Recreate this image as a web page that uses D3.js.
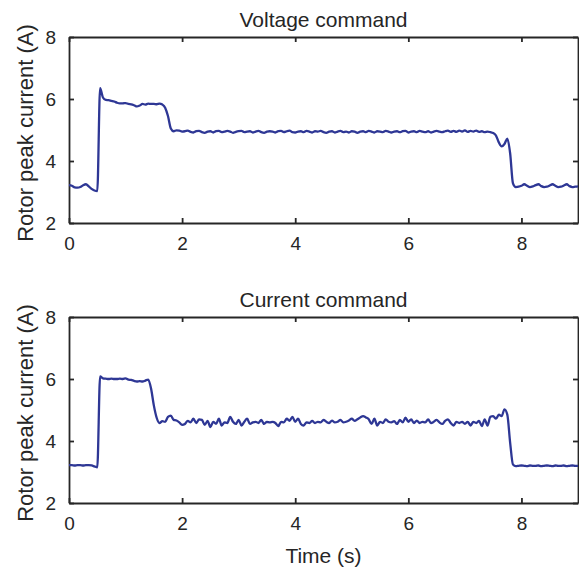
<!DOCTYPE html>
<html>
<head>
<meta charset="utf-8">
<script src="https://cdn.jsdelivr.net/npm/d3@7"></script>
<style>
  html, body { margin: 0; padding: 0; background: #fff; }
  svg { display: block; }
  text { font-family: "Liberation Sans", Arial, Helvetica, sans-serif; fill: #262626; }
</style>
</head>
<body>
<svg id="chart" width="579" height="574"></svg>
<script>
// ---- data ----
const timeStep = 0.05; // sampling interval of the recorded traces (s)
const panelTitles = ["Voltage command", "Current command"];
const xTicks = [0, 2, 4, 6, 8];
const yTicks = [2, 4, 6, 8];
const xDomain = [0, 9];
const yDomain = [2, 8];

const voltageCmd = [
  3.22, 3.20, 3.15, 3.14, 3.16, 3.22, 3.25, 3.18, 3.10, 3.05,
  3.03, 6.35, 6.05, 5.97, 5.96, 5.94, 5.92, 5.88, 5.86, 5.86,
  5.87, 5.84, 5.83, 5.80, 5.76, 5.79, 5.84, 5.82, 5.85, 5.84,
  5.84, 5.83, 5.85, 5.82, 5.72, 5.45, 5.05, 4.96, 4.99, 4.98,
  4.95, 4.96, 4.98, 4.94, 4.92, 4.96, 4.97, 4.93, 4.91, 4.95,
  4.96, 4.92, 4.96, 4.97, 4.93, 4.95, 4.97, 4.95, 4.91, 4.94,
  4.96, 4.97, 4.93, 4.95, 4.96, 4.92, 4.95, 4.97, 4.93, 4.91,
  4.95, 4.96, 4.95, 4.92, 4.96, 4.97, 4.93, 4.96, 4.98, 4.93,
  4.92, 4.95, 4.96, 4.93, 4.97, 4.95, 4.92, 4.96, 4.95, 4.97,
  4.93, 4.91, 4.95, 4.96, 4.92, 4.95, 4.97, 4.93, 4.95, 4.92,
  4.96, 4.95, 4.91, 4.95, 4.96, 4.93, 4.97, 4.95, 4.92, 4.96,
  4.95, 4.93, 4.97, 4.95, 4.92, 4.95, 4.96, 4.93, 4.96, 4.97,
  4.92, 4.95, 4.96, 4.93, 4.97, 4.95, 4.93, 4.96, 4.92, 4.95,
  4.97, 4.95, 4.93, 4.96, 4.98, 4.94, 4.97, 4.94, 4.98, 4.95,
  4.99, 4.94, 4.97, 4.95, 4.98, 4.94, 4.96, 4.93, 4.95, 4.93,
  4.90, 4.82, 4.60, 4.47, 4.55, 4.72, 4.25, 3.28, 3.16, 3.17,
  3.20, 3.25, 3.20, 3.16, 3.18, 3.22, 3.25, 3.19, 3.16, 3.17,
  3.21, 3.25, 3.20, 3.16, 3.17, 3.21, 3.25, 3.19, 3.16, 3.17,
  3.18
];

const currentCmd = [
  3.22, 3.22, 3.21, 3.22, 3.22, 3.21, 3.22, 3.22, 3.21, 3.18,
  3.15, 6.08, 6.02, 6.01, 6.00, 6.01, 6.00, 6.00, 6.01, 6.00,
  6.02, 5.98, 5.97, 5.94, 5.92, 5.93, 5.92, 5.95, 5.98, 5.70,
  5.15, 4.75, 4.58, 4.64, 4.62, 4.78, 4.82, 4.68, 4.66, 4.60,
  4.52, 4.55, 4.65, 4.60, 4.72, 4.58, 4.70, 4.68, 4.52, 4.65,
  4.45, 4.62, 4.55, 4.72, 4.50, 4.60, 4.58, 4.78, 4.62, 4.55,
  4.68, 4.50, 4.62, 4.72, 4.55, 4.60, 4.62, 4.58, 4.68, 4.55,
  4.62, 4.60, 4.62, 4.58, 4.48, 4.62, 4.60, 4.72, 4.65, 4.78,
  4.62, 4.72, 4.55, 4.50, 4.60, 4.58, 4.65, 4.58, 4.62, 4.60,
  4.68, 4.62, 4.58, 4.66, 4.60, 4.62, 4.68, 4.60, 4.62, 4.66,
  4.72, 4.65, 4.70, 4.76, 4.80, 4.76, 4.70, 4.55, 4.72, 4.50,
  4.62, 4.58, 4.70, 4.62, 4.60, 4.64, 4.55, 4.68, 4.60, 4.75,
  4.62, 4.70, 4.58, 4.66, 4.58, 4.62, 4.60, 4.70, 4.58, 4.62,
  4.68, 4.60, 4.55, 4.65, 4.70, 4.58, 4.50, 4.62, 4.58, 4.62,
  4.55, 4.62, 4.50, 4.62, 4.58, 4.65, 4.48, 4.70, 4.50, 4.78,
  4.80, 4.72, 4.85, 4.80, 5.02, 4.85, 3.95, 3.24, 3.19, 3.20,
  3.21, 3.20, 3.19, 3.21, 3.20, 3.20, 3.21, 3.19, 3.20, 3.21,
  3.20, 3.19, 3.21, 3.20, 3.20, 3.21, 3.19, 3.20, 3.21, 3.20,
  3.20
];

// ---- layout ----
const svg = d3.select("#chart");
const lineColor = "#2E3795";
const axisColor = "#262626";
const plotLeft = 69, plotRight = 578;
const panels = [
  { title: panelTitles[0], values: voltageCmd, top: 37, bottom: 223 },
  { title: panelTitles[1], values: currentCmd, top: 317, bottom: 503 }
];

const x = d3.scaleLinear().domain(xDomain).range([plotLeft, plotRight]);

panels.forEach((p, i) => {
  const y = d3.scaleLinear().domain(yDomain).range([p.bottom, p.top]);
  const g = svg.append("g");
  const data = p.values.map((v, k) => ({ t: k * timeStep, v }));

  const tick = 5;
  // bottom axis
  g.append("g").attr("transform", `translate(0,${p.bottom})`)
    .call(d3.axisBottom(x).tickValues(xTicks).tickSizeInner(-tick).tickSizeOuter(0).tickPadding(14).tickFormat(d3.format("d")));
  // top axis
  g.append("g").attr("transform", `translate(0,${p.top})`)
    .call(d3.axisTop(x).tickValues(xTicks).tickSizeInner(-tick).tickSizeOuter(0).tickFormat(""));
  // left axis
  g.append("g").attr("transform", `translate(${plotLeft},0)`)
    .call(d3.axisLeft(y).tickValues(yTicks).tickSizeInner(-tick).tickSizeOuter(0).tickPadding(13).tickFormat(d3.format("d")));
  // right axis
  g.append("g").attr("transform", `translate(${plotRight},0)`)
    .call(d3.axisRight(y).tickValues(yTicks).tickSizeInner(-tick).tickSizeOuter(0).tickFormat(""));

  g.selectAll(".domain").attr("stroke", axisColor).attr("stroke-width", 1.8);
  g.selectAll(".tick line").attr("stroke", axisColor).attr("stroke-width", 1.8);
  g.selectAll(".tick text")
    .attr("font-family", '"Liberation Sans", Arial, sans-serif')
    .attr("font-size", 19).attr("fill", axisColor);

  // line
  const line = d3.line().x(d => x(d.t)).y(d => y(d.v)).curve(d3.curveMonotoneX);
  g.append("path")
    .datum(data)
    .attr("fill", "none")
    .attr("stroke", lineColor)
    .attr("stroke-width", 2.3)
    .attr("stroke-linejoin", "round")
    .attr("d", line);

  // title
  g.append("text")
    .attr("x", (plotLeft + plotRight) / 2)
    .attr("y", p.top - 10)
    .attr("text-anchor", "middle")
    .attr("font-size", 21)
    .text(p.title);

  // y label
  g.append("text")
    .attr("transform", `translate(33,${(p.top + p.bottom) / 2 + 3}) rotate(-90)`)
    .attr("text-anchor", "middle")
    .attr("font-size", 22)
    .text("Rotor peak current (A)");
});

svg.append("text")
  .attr("x", (plotLeft + plotRight) / 2)
  .attr("y", 563)
  .attr("text-anchor", "middle")
  .attr("font-size", 21)
  .text("Time (s)");
</script>
</body>
</html>
